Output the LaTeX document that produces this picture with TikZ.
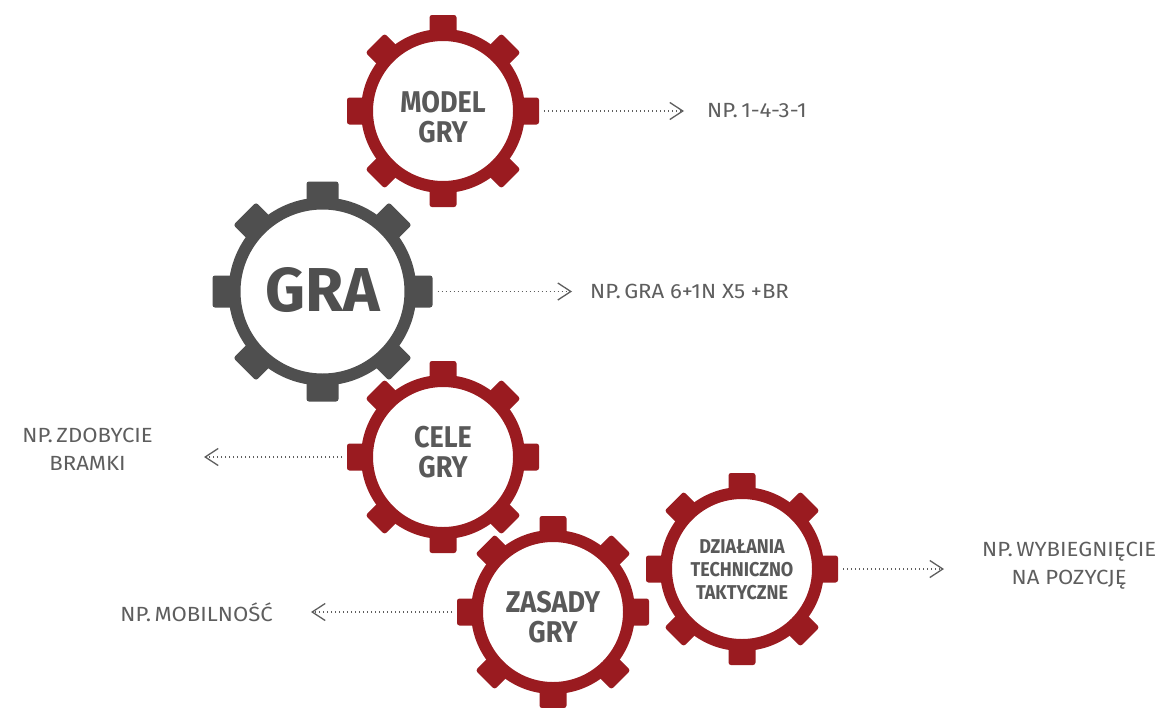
\documentclass[tikz,border=0pt]{standalone}
\usepackage{fontspec}
\setmainfont{Fira Sans}
\newfontfamily\gearfont{Fira Sans}[FakeStretch=0.9]
\newfontfamily\notefont{Fira Sans}[FakeStretch=1.08]
\usepackage{tikz}
\usetikzlibrary{arrows.meta,positioning}
\definecolor{gearred}{HTML}{9A1B20}
\definecolor{geargray}{HTML}{4F4F4F}
\definecolor{labelgray}{HTML}{595959}
\definecolor{notegray}{HTML}{5E5E5E}
\tikzset{
  pics/gear/.style n args={5}{code={
    \fill[#5, even odd rule] (0,0) circle (#2) (0,0) circle (#3);
    \foreach \a in {0,45,...,315}
      \fill[#5, rotate=\a, rounded corners=2.5pt] ({#2-4},{-#4/2}) rectangle (#1,{#4/2});
    \coordinate (-e) at ({#1+5},0);
    \coordinate (-w) at ({-#1-5},0);
  }},
  gear label/.style = {text=labelgray, align=center, font=\gearfont\bfseries\fontsize{30}{30}\selectfont},
  small label/.style = {gear label, font=\gearfont\bfseries\fontsize{20}{23}\selectfont},
  note/.style = {text=notegray, align=center, inner sep=0pt, font=\notefont\fontsize{20.5}{28}\selectfont},
  hint/.style = {draw=notegray, line width=1.1pt, dash pattern=on 1.1pt off 2.9pt,
    -{Straight Barb[length=13pt,width=17pt,line width=1.3pt]}}
}

\begin{document}
\begin{tikzpicture}[x=1pt,y=-1pt]
  \fill[white] (0,0) rectangle (1164,707);
  \useasboundingbox (0,0) rectangle (1164,707);

  % gears
  \pic (gra) at (322.5,291.5) {gear={110}{94}{82}{32}{geargray}};
  \pic (model) at (443,111) {gear={96}{82}{70}{27}{gearred}};
  \pic (cele) at (443,457) {gear={96}{82}{70}{27}{gearred}};
  \pic (zasady) at (553,612) {gear={96}{82}{70}{27}{gearred}};
  \pic (dzia) at (742,569) {gear={96}{82}{70}{27}{gearred}};

  % labels
  \node[gear label, text=geargray, font=\bfseries\fontsize{62}{62}\selectfont] (gra label) at (322.5,290) {GRA};
  \node[gear label] (model label) at (443,117) {MODEL\\GRY};
  \node[gear label] (cele label) at (443,452) {CELE\\GRY};
  \node[gear label] (zasady label) at (553,617) {ZASADY\\GRY};
  \node[small label] (dzia label) at (742,570) {DZIAŁANIA\\TECHNICZNO\\TAKTYCZNE};

  % hints
  \coordinate (model tip) at (684,111);
  \coordinate (gra tip) at (572,291.5);
  \coordinate (cele tip) at (204,457);
  \coordinate (zasady tip) at (311,612);
  \coordinate (dzia tip) at (944,569);

  \draw[hint] (model-e) -- (model tip);
  \draw[hint] (gra-e) -- (gra tip);
  \draw[hint] (cele-w) -- (cele tip);
  \draw[hint] (zasady-w) -- (zasady tip);
  \draw[hint] (dzia-e) -- (dzia tip);

  \node[note, right=23pt of model tip] (model note) {NP.\,1-4-3-1};
  \node[note, right=18pt of gra tip] (gra note) {NP.\,GRA 6+1N X5 +BR};
  \node[note, left=51pt of cele tip, yshift=8pt] (cele note) {NP.\,ZDOBYCIE\\BRAMKI};
  \node[note, left=38pt of zasady tip] (zasady note) {NP.\,MOBILNOŚĆ};
  \node[note, right=38pt of dzia tip, yshift=3pt] (dzia note) {NP.\,WYBIEGNIĘCIE\\NA POZYCJĘ};
\end{tikzpicture}
\end{document}
